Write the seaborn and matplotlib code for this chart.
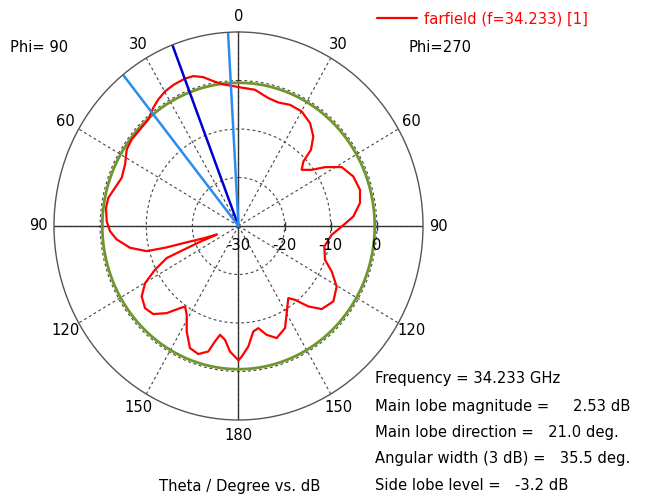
import numpy as np
import pandas as pd
import matplotlib
matplotlib.use("Agg")
import matplotlib.pyplot as plt
import seaborn as sns

sns.set_theme(style="white")
plt.rcParams['font.family'] = ['DejaVu Sans']
plt.rcParams['text.color'] = 'black'
plt.rcParams['xtick.color'] = 'black'

# farfield cut, Phi=90 half (drawn on the left), theta in degrees, gain in dB
theta_phi90 = [0, 2.2, 6.4, 10.4, 14.0, 17.6, 21.0, 25.6, 29.8, 33.7, 37.2, 41.7,
               47.0, 52.4, 56.9, 62.7, 68.6, 73.6, 78.4, 82.6, 88.0, 92.2, 96.0,
               100.8, 104.6, 105.8, 106.7, 108.5, 110.5, 111.5, 112.5, 113.0, 116.5,
               120.2, 124.7, 129.9, 134.5, 139.1, 143.2, 145.1, 148.5, 152.7, 157.3,
               161.7, 165.8, 167.9, 169.9, 172.9, 175.9, 180]
gain_phi90 = [-1.36, -1.13, -0.64, 0.37, 1.64, 2.42, 2.53, 2.35, 2.0, 1.35, 0.58, -0.6,
              -0.81, -0.77, -1.08, -2.32, -2.8, -2.09, -1.18, -1.03, -1.41, -2.12, -3.45,
              -6.05, -9.44, -13.8, -18.3, -22.0, -25.0, -20.5, -16.5, -13.09, -9.77,
              -6.56, -4.47, -3.59, -4.09, -6.23, -8.85, -9.75, -8.52, -5.52, -2.72,
              -2.19, -3.31, -5.65, -7.21, -6.35, -4.06, -2.3]

# Phi=270 half (drawn on the right)
theta_phi270 = [0, 7.3, 13.8, 18.7, 24.1, 30.1, 36.2, 41.3, 45.0, 46.6, 49.8, 53.9,
                57.1, 61.5, 67.7, 74.2, 79.8, 85.5, 90.3, 95.1, 102.8, 110.4, 114.9,
                120.4, 127.1, 133.5, 137.6, 141.2, 144.0, 149.8, 154.4, 160.3, 164.8,
                168.5, 171.6, 175.1, 178.5, 180]
gain_phi270 = [-1.36, -1.69, -2.85, -3.11, -2.63, -2.7, -3.72, -5.43, -7.78, -10.65, -12.06, -10.35,
               -7.66, -4.54, -3.1, -2.62, -3.24, -5.03, -7.63, -9.71, -10.92, -9.99, -7.72,
               -5.32, -4.22, -5.12, -7.54, -10.47, -11.63, -9.22, -6.66, -5.45, -6.75,
               -8.51, -8.01, -5.06, -3.08, -2.3]

main_lobe_mag = 2.53
main_lobe_dir = 21.0
beam_width = 35.5
r_min, r_max = -30, 10
r_rings = [-20, -10, 0]
r_labels = [-30, -20, -10, 0]
angle_ticks = [0, 30, 60, 90, 120, 150, 180, 210, 240, 270, 300, 330]
angle_labels = ['0', '30', '60', '90', '120', '150', '180', '150', '120', '90', '60', '30']

info_lines = ["Frequency = 34.233 GHz",
              "Main lobe magnitude =     2.53 dB",
              "Main lobe direction =   21.0 deg.",
              "Angular width (3 dB) =   35.5 deg.",
              "Side lobe level =   -3.2 dB"]
info_y = [379, 407, 433, 459, 486]

# one closed curve: left half 0 -> 180, then right half back 180 -> 0
left = pd.DataFrame({'angle': np.radians(theta_phi90), 'gain': gain_phi90})
right = pd.DataFrame({'angle': np.radians(360 - np.array(theta_phi270[::-1])),
                      'gain': gain_phi270[::-1]})
df = pd.concat([left, right], ignore_index=True)

W, H = 652, 497
fs = 10.6
fig = plt.figure(figsize=(W / 100, H / 100), dpi=100)
ax = fig.add_axes([54 / W, 77 / H, 369 / W, 388 / H], projection='polar')
ax.set_aspect('auto')
ax.set_theta_zero_location('N')
ax.set_theta_direction(1)
ax.set_ylim(r_min, r_max)

ax.set_yticks(r_rings)
ax.set_yticklabels([])
ax.set_xticks(np.radians(angle_ticks))
ax.set_xticklabels(angle_labels, fontsize=fs)
ax.tick_params(axis='x', pad=-2)
ax.grid(True, color='#444444', linestyle=(0, (2.5, 2.5)), linewidth=0.8)
ax.spines['polar'].set_color('#555555')
ax.spines['polar'].set_linewidth(1.0)

# solid cross through the centre
for a in [0, 90]:
    ax.plot(np.radians([a, a, a + 180]), [r_max, r_min, r_max], color='#333333', lw=1.0)
ax.plot(np.radians([270] * 3), r_rings, ls='none', marker='|', ms=6, color='#333333')

# -3 dB circle
ring = np.linspace(0, 2 * np.pi, 361)
ax.plot(ring, np.full(ring.shape, main_lobe_mag - 3), color='#6f962b', lw=2.0)

sns.lineplot(data=df, x='angle', y='gain', sort=False, estimator=None, color='red',
             lw=1.6, ax=ax, label='farfield (f=34.233) [1]')

# main lobe direction and 3 dB beam width lines
ax.plot(np.radians([main_lobe_dir] * 2), [r_min, r_max], color='#0000cc', lw=1.8)
for a in [main_lobe_dir - beam_width / 2, main_lobe_dir + beam_width / 2]:
    ax.plot(np.radians([a, a]), [r_min, r_max], color='#2a8bf0', lw=1.8)

for r in r_labels:
    ax.annotate(str(r), xy=(np.radians(270), r), xytext=(0, -19), textcoords='offset pixels',
                ha='center', va='center', fontsize=fs)

ax.set_xlabel('')
ax.set_ylabel('')
ax.legend(loc='center left', bbox_to_anchor=(377 / W, 1 - 19 / H), bbox_transform=fig.transFigure,
          frameon=False, handlelength=2.7, handletextpad=0.5, borderpad=0, borderaxespad=0,
          labelcolor='red', fontsize=fs)

fig.text(10 / W, 1 - 48 / H, 'Phi= 90', va='center', fontsize=fs)
fig.text(409 / W, 1 - 48 / H, 'Phi=270', va='center', fontsize=fs)
for line, y in zip(info_lines, info_y):
    fig.text(375 / W, 1 - y / H, line, va='center', fontsize=fs)
fig.text(240 / W, 1 - 486 / H, 'Theta / Degree vs. dB', ha='center', va='center', fontsize=fs)

fig.savefig('out.png', dpi=100)
